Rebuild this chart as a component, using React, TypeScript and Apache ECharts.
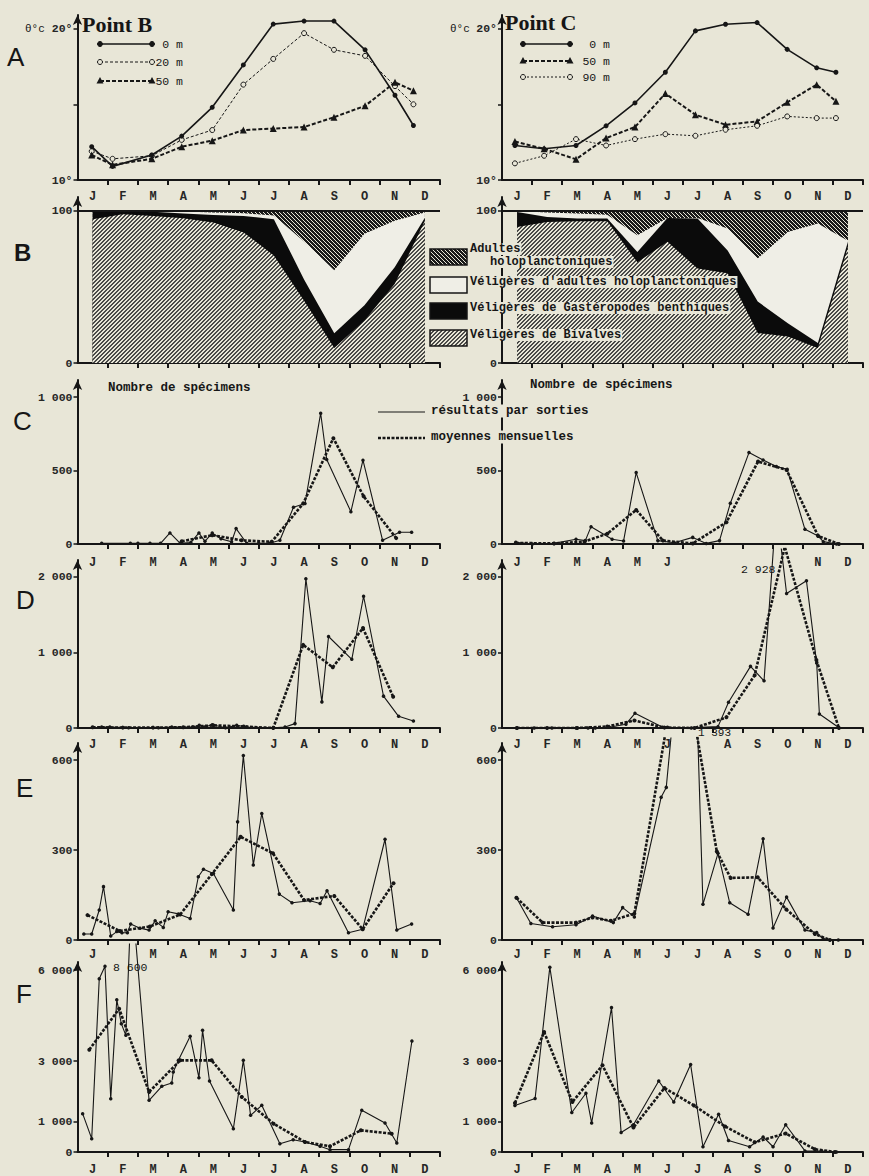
import React, { useEffect, useRef } from "react";
import * as echarts from "echarts";

const MONTHS = ["J", "F", "M", "A", "M", "J", "J", "A", "S", "O", "N", "D"];
const BG = "#e8e6d7";
const INK = "#161616";
const MONO = "'Liberation Mono', 'DejaVu Sans Mono', monospace";

// ---------- A : température (°C), x = mois écoulés depuis le 1er janvier ----------
const tempB_x = [0.47, 1.16, 2.46, 3.45, 4.46, 5.49, 6.48, 7.5, 8.49, 9.52, 10.51, 11.12];
const tempB_0m = [12.2, 10.9, 11.65, 12.9, 14.8, 17.6, 20.3, 20.5, 20.5, 18.6, 15.6, 13.6];
const tempB_20m = [11.9, 11.4, 11.6, 12.65, 13.3, 16.3, 18.0, 19.7, 18.6, 18.2, 16.2, 15.0];
const tempB_50m = [11.65, 11.0, 11.4, 12.2, 12.6, 13.3, 13.4, 13.5, 14.15, 14.9, 16.45, 15.9];

const tempC_x = [0.43, 1.4, 2.46, 3.46, 4.42, 5.43, 6.43, 7.43, 8.48, 9.48, 10.46, 11.1];
const tempC_0m = [12.28, 12.06, 12.28, 13.58, 15.09, 17.12, 19.85, 20.29, 20.4, 18.63, 17.41, 17.12];
const tempC_50m = [12.54, 12.06, 11.37, 12.77, 13.5, 15.71, 14.31, 13.65, 13.87, 15.13, 16.3, 15.2];
const tempC_90m = [11.1, 11.6, 12.7, 12.28, 12.7, 13.03, 12.92, 13.32, 13.58, 14.2, 14.09, 14.09];

// ---------- B : composition (%) ----------
const compMonths = [0.5, 1.5, 2.5, 3.5, 4.5, 5.5, 6.5, 7.5, 8.5, 9.5, 10.5, 11.5];
const pctB_bivalves = [94.6, 97.8, 96.7, 95.2, 92.4, 85.9, 70.7, 41, 9.8, 28, 52, 93.5];
const pctB_gastero = [5.4, 1.7, 2.8, 3.1, 5.0, 10.8, 23.9, 14, 9.8, 10, 11, 2.1];
const pctB_velHolo = [0, 0.5, 0.5, 1.3, 1.6, 1.8, 2.4, 25, 41.4, 47, 30.5, 3.4];
const pctB_adultes = [0, 0, 0, 0.4, 1, 1.5, 3, 20, 39, 15, 6.5, 1];

const pctC_bivalves = [89.5, 92.8, 93.2, 93.2, 66.2, 79.7, 62.2, 59, 19.7, 17.5, 9.8, 76.4];
const pctC_gastero = [9.8, 3.2, 1.8, 1.8, 6.8, 15.7, 32.8, 15, 20.7, 8.7, 3.3, 3.3];
const pctC_velHolo = [0.7, 3, 3.3, 2.6, 11, 0, 0.4, 14.4, 28.4, 60, 78.6, 0.8];
const pctC_adultes = [0, 1, 1.7, 2.4, 16, 4.6, 4.6, 11.6, 31.2, 13.8, 8.3, 19.5];

// ---------- C : Bivalves ----------
const cB_sorties_x = [0.8, 1.75, 2.0, 2.4, 2.75, 3.06, 3.4, 3.75, 4.02, 4.22, 4.46, 4.75, 5.1, 5.25, 5.6, 6.0, 6.37, 6.7, 7.15, 7.53, 8.05, 8.25, 9.05, 9.45, 10.1, 10.66, 11.06];
const cB_sorties_v = [5, 5, 5, 5, 5, 75, 5, 10, 75, 18, 75, 35, 15, 105, 5, 5, 5, 25, 250, 275, 890, 575, 220, 570, 25, 80, 80];
const cB_moy_x = [3.45, 4.46, 5.43, 6.43, 7.47, 8.47, 9.47, 10.55];
const cB_moy_v = [18, 60, 25, 15, 275, 720, 325, 40];

const cC_sorties_x = [0.46, 1.01, 1.73, 2.46, 2.77, 2.96, 3.66, 4.04, 4.46, 5.18, 5.73, 6.34, 6.79, 7.23, 7.59, 8.21, 8.68, 9.12, 9.48, 10.07, 10.51, 10.68, 11.12];
const cC_sorties_v = [11, 0, 4, 32, 23, 118, 32, 20, 486, 23, 9, 45, 4, 23, 277, 622, 572, 527, 508, 100, 54, 16, 0];
const cC_moy_x = [0.46, 1.73, 2.74, 3.5, 4.46, 5.35, 6.34, 7.46, 8.51, 9.46, 10.51, 11.2];
const cC_moy_v = [7, 4, 16, 70, 232, 23, 4, 148, 561, 504, 54, 0];

// ---------- D ----------
const dB_sorties_x = [0.8, 1.07, 1.69, 2.68, 3.12, 3.81, 4.03, 4.2, 4.46, 4.9, 5.27, 5.6, 6.48, 6.87, 7.2, 7.56, 8.09, 8.31, 9.08, 9.47, 10.13, 10.63, 11.12];
const dB_sorties_v = [13, 13, 4, 4, 13, 13, 35, 13, 44, 4, 35, 13, 4, 13, 58, 1976, 346, 1212, 910, 1745, 422, 155, 93];
const dB_moy_x = [0.5, 1.5, 2.5, 3.5, 4.5, 5.5, 6.48, 7.47, 8.45, 9.45, 10.45];
const dB_moy_v = [10, 5, 5, 10, 35, 20, 0, 1101, 804, 1323, 413];

const dC_sorties_x = [0.48, 1.07, 1.66, 2.46, 2.86, 3.1, 3.57, 4.12, 4.42, 5.34, 5.5, 6.29, 6.62, 7.18, 7.53, 8.26, 8.71, 9.12, 9.46, 10.12, 10.46, 10.55, 11.18];
const dC_sorties_v = [0, 0, 0, 0, 0, 0, 10, 50, 195, 9, 9, 0, 9, 18, 340, 816, 625, 2928, 1782, 1950, 860, 186, 9];
const dC_moy_x = [0.5, 1.5, 2.5, 3.5, 4.4, 5.4, 6.4, 7.46, 8.4, 9.4, 10.45, 11.2];
const dC_moy_v = [0, 0, 0, 20, 100, 5, 0, 141, 700, 2400, 900, 0];

// ---------- E ----------
const eB_sorties_x = [0.21, 0.47, 0.72, 0.86, 1.1, 1.3, 1.47, 1.65, 1.76, 2.07, 2.37, 2.57, 2.84, 3.0, 3.34, 3.73, 4.0, 4.17, 4.5, 5.16, 5.3, 5.49, 5.82, 6.1, 6.68, 7.1, 7.7, 8.03, 8.26, 8.97, 9.44, 10.18, 10.57, 11.06];
const eB_sorties_v = [20, 20, 100, 178, 13, 28, 24, 24, 53, 39, 33, 64, 42, 94, 87, 72, 211, 236, 222, 100, 394, 615, 250, 422, 153, 124, 131, 122, 164, 24, 36, 336, 33, 53];
const eB_moy_x = [0.33, 1.4, 2.4, 3.4, 4.45, 5.4, 6.47, 7.5, 8.5, 9.44, 10.46];
const eB_moy_v = [83, 30, 45, 85, 220, 344, 289, 133, 147, 36, 189];

const eC_sorties_x = [0.48, 0.96, 1.68, 2.46, 3.01, 3.7, 4.01, 4.4, 5.29, 5.46, 6.29, 6.68, 7.18, 7.57, 8.18, 8.68, 9.01, 9.46, 10.07, 10.46, 10.68, 11.18];
const eC_sorties_v = [141, 55, 44, 51, 80, 58, 108, 77, 476, 509, 1393, 119, 289, 124, 86, 338, 40, 143, 33, 25, 3, 0];
const eC_moy_x = [0.48, 1.35, 2.46, 3.01, 3.62, 4.4, 5.45, 6.35, 7.14, 7.6, 8.5, 9.45, 10.4, 10.9];
const eC_moy_v = [141, 58, 58, 75, 64, 88, 700, 760, 295, 207, 209, 102, 20, 0];

// ---------- F ----------
const fB_sorties_x = [0.17, 0.47, 0.72, 0.91, 1.1, 1.3, 1.45, 1.6, 1.79, 2.37, 2.79, 3.12, 3.17, 3.34, 3.73, 4.02, 4.14, 4.37, 5.16, 5.49, 5.73, 6.1, 6.7, 7.14, 7.53, 8.03, 8.36, 8.97, 9.41, 10.18, 10.57, 11.07];
const fB_sorties_v = [1265, 440, 5720, 6127, 1760, 5027, 4235, 3850, 8600, 1705, 2167, 2277, 2640, 3025, 3817, 2453, 4015, 2343, 770, 3025, 1210, 1540, 275, 407, 330, 187, 77, 77, 1375, 957, 297, 3663];
const fB_moy_x = [0.39, 1.38, 2.37, 3.4, 4.44, 5.44, 6.49, 7.53, 8.36, 9.38, 10.4];
const fB_moy_v = [3375, 4730, 1980, 3025, 3025, 1815, 935, 330, 187, 715, 605];

const fC_sorties_x = [0.43, 1.1, 1.59, 2.32, 2.79, 2.98, 3.64, 3.96, 4.37, 5.21, 5.71, 6.27, 6.68, 7.2, 7.53, 8.23, 8.68, 9.01, 9.43, 10.07, 10.62, 11.12];
const fC_sorties_v = [1535, 1766, 6100, 1304, 1939, 958, 4766, 646, 900, 2343, 1650, 2885, 173, 1246, 381, 173, 496, 173, 900, 35, 35, 0];
const fC_moy_x = [0.43, 1.4, 2.34, 3.34, 4.37, 5.4, 6.38, 7.42, 8.4, 9.43, 10.4, 11.07];
const fC_moy_v = [1616, 3958, 1650, 2862, 808, 2112, 1535, 842, 323, 612, 92, 0];

// ---------- layout ----------
const COLS = [
  { left: 77.5, width: 362.5 },
  { left: 502, width: 361 },
];
const ROWS = [
  { top: 15, height: 165, min: 10, max: 20.9, ticks: [10, 15, 20], labels: { 10: "10°", 20: "20°" } as Record<number, string>, monthMargin: 11 },
  { top: 197, height: 166, min: 0, max: 109.2, ticks: [0, 100], labels: { 0: "0", 100: "100" } as Record<number, string>, monthMargin: -1 },
  { top: 380, height: 164, min: 0, max: 1116, ticks: [0, 500, 1000], labels: { 0: "0", 500: "500", 1000: "1 000" } as Record<number, string>, monthMargin: 13 },
  { top: 560, height: 168, min: 0, max: 2225, ticks: [0, 1000, 2000], labels: { 0: "0", 1000: "1 000", 2000: "2 000" } as Record<number, string>, monthMargin: 11 },
  { top: 743, height: 197, min: 0, max: 657, ticks: [0, 300, 600], labels: { 0: "0", 300: "300", 600: "600" } as Record<number, string>, monthMargin: 9 },
  { top: 962, height: 190, min: 0, max: 6270, ticks: [0, 1000, 3000, 6000], labels: { 0: "0", 1000: "1 000", 3000: "3 000", 6000: "6 000" } as Record<number, string>, monthMargin: 12 },
];
// month labels masked in the original by the overflowing peaks
const HIDDEN_MONTHS: Record<number, number[]> = { 5: [6, 7, 8, 9], 7: [6], 8: [1] };
// panels whose peaks overflow above the axis arrow (top of the drawing zone)
const OVERFLOW_TOP: Record<number, number> = { 7: 549, 9: 738, 10: 944 };

const zip = (xs: number[], ys: number[]) => xs.map((x, i) => [x, ys[i]]);
const cumul = (...parts: number[][]) => parts[0].map((_, i) => parts.reduce((s, p) => s + p[i], 0));

function hatch(dark: string, light: string, on: number, slash: boolean) {
  const c = document.createElement("canvas");
  c.width = 4;
  c.height = 4;
  const g = c.getContext("2d")!;
  g.fillStyle = light;
  g.fillRect(0, 0, 4, 4);
  g.fillStyle = dark;
  for (let y = 0; y < 4; y++) {
    for (let k = 0; k < on; k++) {
      const x = slash ? (3 - y + k + 8) % 4 : (y + k) % 4;
      g.fillRect(x, y, 1, 1);
    }
  }
  return c;
}

function buildOption() {
  const patLight = { image: hatch("#4a4a48", BG, 2, true), repeat: "repeat", imageWidth: 4, imageHeight: 4 };
  const patDark = { image: hatch("#1a1a1a", BG, 3, false), repeat: "repeat", imageWidth: 4, imageHeight: 4 };
  const WHITE = "#efeee6";

  const grid: any[] = [];
  const xAxis: any[] = [];
  const yAxis: any[] = [];
  const series: any[] = [];
  const axisFor: Record<number, number> = {};

  ROWS.forEach((r, ri) => {
    COLS.forEach((c, ci) => {
      const gi = ri * 2 + ci;
      axisFor[gi] = gi;
      const hidden = HIDDEN_MONTHS[gi] || [];
      grid.push({ left: c.left, top: r.top, width: c.width, height: r.height, containLabel: false, outerBoundsMode: "none" });
      xAxis.push({
        type: "value",
        gridIndex: gi,
        min: 0,
        max: 12,
        splitLine: { show: false },
        axisLine: { show: true, onZero: false, lineStyle: { color: INK, width: 2 } },
        axisTick: { show: true, customValues: [1, 2, 3, 4, 5, 6, 7, 8, 9, 10, 11, 12], length: 5, inside: false, lineStyle: { color: INK, width: 2 } },
        axisLabel: {
          show: r.monthMargin >= 0,
          customValues: [0.5, 1.5, 2.5, 3.5, 4.5, 5.5, 6.5, 7.5, 8.5, 9.5, 10.5, 11.5],
          formatter: (v: number) => {
            const k = Math.round(v - 0.5);
            return hidden.includes(k) ? "" : MONTHS[k] || "";
          },
          margin: Math.max(r.monthMargin, 0),
          fontFamily: MONO,
          fontWeight: "bold",
          fontSize: 12,
          color: "#262626",
        },
      });
      yAxis.push({
        type: "value",
        gridIndex: gi,
        min: r.min,
        max: r.max,
        splitLine: { show: false },
        axisLine: { show: true, onZero: false, symbol: ["none", "arrow"], symbolSize: [7, 10], lineStyle: { color: INK, width: 2 } },
        axisTick: { show: true, customValues: r.ticks, length: 4, inside: false, lineStyle: { color: INK, width: 1.5 } },
        axisLabel: {
          customValues: r.ticks,
          formatter: (v: number) => r.labels[v] ?? "",
          margin: 5,
          fontFamily: MONO,
          fontWeight: "bold",
          fontSize: 11.5,
          color: "#262626",
        },
      });
    });
  });

  // invisible companion grids, same scale, letting tall peaks run above the arrow
  Object.keys(OVERFLOW_TOP).forEach((k) => {
    const gi = Number(k);
    const r = ROWS[Math.floor(gi / 2)];
    const c = COLS[gi % 2];
    const top = OVERFLOW_TOP[gi];
    const bottom = r.top + r.height;
    const h = bottom - top;
    const idx = grid.length;
    grid.push({ left: c.left, top, width: c.width, height: h, containLabel: false, outerBoundsMode: "none" });
    xAxis.push({ type: "value", gridIndex: idx, min: 0, max: 12, show: false });
    yAxis.push({ type: "value", gridIndex: idx, min: r.min, max: r.min + ((r.max - r.min) * h) / r.height, show: false });
    axisFor[gi] = idx;
  });

  const temp = (gi: number, name: string, xs: number[], ys: number[], kind: "solid" | "open" | "tri" | "dot") => {
    const base: any = {
      type: "line",
      name,
      xAxisIndex: gi,
      yAxisIndex: gi,
      data: zip(xs, ys),
      silent: true,
      z: kind === "solid" ? 5 : 4,
    };
    if (kind === "solid") {
      base.symbol = "circle";
      base.symbolSize = 5;
      base.itemStyle = { color: INK };
      base.lineStyle = { color: INK, width: 1.6 };
    } else if (kind === "open") {
      base.symbol = "circle";
      base.symbolSize = 5;
      base.itemStyle = { color: BG, borderColor: INK, borderWidth: 1 };
      base.lineStyle = { color: INK, width: 1, type: [3, 2] };
    } else if (kind === "tri") {
      base.symbol = "triangle";
      base.symbolSize = 7;
      base.itemStyle = { color: INK };
      base.lineStyle = { color: INK, width: 2, type: [4, 2] };
    } else {
      base.symbol = "circle";
      base.symbolSize = 5;
      base.itemStyle = { color: BG, borderColor: INK, borderWidth: 1 };
      base.lineStyle = { color: INK, width: 1, type: [2, 2] };
    }
    return base;
  };
  series.push(temp(0, "0 m", tempB_x, tempB_0m, "solid"));
  series.push(temp(0, "20 m", tempB_x, tempB_20m, "open"));
  series.push(temp(0, "50 m", tempB_x, tempB_50m, "tri"));
  series.push(temp(1, "0 m", tempC_x, tempC_0m, "solid"));
  series.push(temp(1, "50 m", tempC_x, tempC_50m, "tri"));
  series.push(temp(1, "90 m", tempC_x, tempC_90m, "dot"));

  const comp = (gi: number, biv: number[], gas: number[], vel: number[], adu: number[]) => {
    const tops = [cumul(biv, gas, vel, adu), cumul(biv, gas, vel), cumul(biv, gas), cumul(biv)];
    const fills: any[] = [patDark, WHITE, "#0b0b0b", patLight];
    tops.forEach((t, k) => {
      const s: any = {
        type: "line",
        xAxisIndex: gi,
        yAxisIndex: gi,
        data: zip(compMonths, t),
        symbol: "none",
        silent: true,
        lineStyle: { width: 0 },
        areaStyle: { color: fills[k], opacity: 1 },
        z: 2 + k,
      };
      if (k === 0) {
        s.markLine = {
          silent: true,
          symbol: "none",
          label: { show: false },
          lineStyle: { color: INK, width: 2, type: "solid" },
          data: [{ yAxis: 100 }],
        };
      }
      series.push(s);
    });
  };
  comp(2, pctB_bivalves, pctB_gastero, pctB_velHolo, pctB_adultes);
  comp(3, pctC_bivalves, pctC_gastero, pctC_velHolo, pctC_adultes);

  const counts = (gi: number, sx: number[], sv: number[], mx: number[], mv: number[]) => {
    const ai = axisFor[gi];
    series.push({
      type: "line",
      xAxisIndex: ai,
      yAxisIndex: ai,
      data: zip(sx, sv),
      symbol: "circle",
      symbolSize: 3.5,
      silent: true,
      itemStyle: { color: INK },
      lineStyle: { color: INK, width: 1.1 },
      z: 5,
    });
    series.push({
      type: "line",
      xAxisIndex: ai,
      yAxisIndex: ai,
      data: zip(mx, mv),
      symbol: "circle",
      symbolSize: 4,
      silent: true,
      itemStyle: { color: INK },
      lineStyle: { color: INK, width: 2.6, type: [3, 1.5] },
      z: 4,
    });
  };
  counts(4, cB_sorties_x, cB_sorties_v, cB_moy_x, cB_moy_v);
  counts(5, cC_sorties_x, cC_sorties_v, cC_moy_x, cC_moy_v);
  counts(6, dB_sorties_x, dB_sorties_v, dB_moy_x, dB_moy_v);
  counts(7, dC_sorties_x, dC_sorties_v, dC_moy_x, dC_moy_v);
  counts(8, eB_sorties_x, eB_sorties_v, eB_moy_x, eB_moy_v);
  counts(9, eC_sorties_x, eC_sorties_v, eC_moy_x, eC_moy_v);
  counts(10, fB_sorties_x, fB_sorties_v, fB_moy_x, fB_moy_v);
  counts(11, fC_sorties_x, fC_sorties_v, fC_moy_x, fC_moy_v);

  // ---------- graphic decorations ----------
  const g: any[] = [];
  const txt = (text: string, x: number, y: number, font: string, extra: any = {}, z = 50) =>
    g.push({ type: "text", x, y, z, silent: true, style: { text, font, fill: INK, verticalAlign: "middle", ...extra } });

  const letterFont = "normal 26px 'Liberation Sans', Arial, sans-serif";
  txt("A", 7, 57, letterFont);
  txt("B", 14, 252, "bold 24px 'Liberation Sans Narrow', 'Liberation Sans', sans-serif");
  txt("C", 13, 421, letterFont);
  txt("D", 16, 600, letterFont);
  txt("E", 16, 788, letterFont);
  txt("F", 16, 994, letterFont);

  txt("Point B", 82, 24, "bold 22px 'Liberation Serif', serif");
  txt("Point C", 505, 22, "bold 22px 'Liberation Serif', serif");
  txt("θ°c", 25, 29, `11px ${MONO}`);
  txt("θ°c", 450, 29, `11px ${MONO}`);

  const legLine = (x1: number, x2: number, y: number, kind: "solid" | "open" | "tri" | "dot") => {
    const dash = kind === "solid" ? null : kind === "open" ? [3, 2] : kind === "tri" ? [4, 2] : [2, 2];
    g.push({ type: "line", z: 50, silent: true, shape: { x1, y1: y, x2, y2: y }, style: { stroke: INK, lineWidth: kind === "tri" ? 2 : kind === "solid" ? 1.6 : 1, lineDash: dash } });
    [x1, x2].forEach((cx) => {
      if (kind === "tri") {
        g.push({ type: "polygon", z: 51, silent: true, shape: { points: [[cx, y - 4], [cx - 3.5, y + 2.5], [cx + 3.5, y + 2.5]] }, style: { fill: INK } });
      } else {
        g.push({ type: "circle", z: 51, silent: true, shape: { cx, cy: y, r: 2.5 }, style: { fill: kind === "solid" ? INK : BG, stroke: INK, lineWidth: 1 } });
      }
    });
  };
  legLine(100, 152, 44, "solid");
  legLine(100, 152, 62, "open");
  legLine(100, 152, 81, "tri");
  txt("0 m", 183, 44, `11.5px ${MONO}`, { align: "right" });
  txt("20 m", 183, 62, `11.5px ${MONO}`, { align: "right" });
  txt("50 m", 183, 81, `11.5px ${MONO}`, { align: "right" });
  legLine(523, 570, 44, "solid");
  legLine(523, 570, 61, "tri");
  legLine(523, 570, 77, "dot");
  txt("0 m", 610, 44, `11.5px ${MONO}`, { align: "right" });
  txt("50 m", 610, 61, `11.5px ${MONO}`, { align: "right" });
  txt("90 m", 610, 77, `11.5px ${MONO}`, { align: "right" });

  // legend B
  const boxes: [number, any, [string, number, number][]][] = [
    [249, patDark, [["Adultes", 469, 249], ["holoplanctoniques", 489, 262]]],
    [277, WHITE, [["Véligères d'adultes holoplanctoniques", 469, 282]]],
    [303, "#0b0b0b", [["Véligères de Gastéropodes benthiques", 469, 308]]],
    [330, patLight, [["Véligères de Bivalves", 469, 335]]],
  ];
  boxes.forEach(([y, fill, lines]) => {
    g.push({ type: "rect", z: 60, silent: true, shape: { x: 430, y, width: 37, height: 16 }, style: { fill, stroke: INK, lineWidth: 1.5 } });
    lines.forEach(([t, x, ty]) => txt(t, x, ty, `bold 12px ${MONO}`, { backgroundColor: BG, padding: [0, 1] }, 61));
  });

  txt("Nombre de spécimens", 108, 388, `bold 12.5px ${MONO}`);
  txt("Nombre de spécimens", 530, 385, `bold 12.5px ${MONO}`);

  // legend C
  g.push({ type: "line", z: 50, silent: true, shape: { x1: 378, y1: 412, x2: 425, y2: 412 }, style: { stroke: INK, lineWidth: 1.2 } });
  g.push({ type: "line", z: 50, silent: true, shape: { x1: 378, y1: 438, x2: 425, y2: 438 }, style: { stroke: INK, lineWidth: 2.6, lineDash: [3, 1.5] } });
  txt("résultats par sorties", 430, 411, `bold 12.5px ${MONO}`, { backgroundColor: BG, padding: [0, 1] }, 61);
  txt("moyennes mensuelles", 430, 437, `bold 12.5px ${MONO}`, { backgroundColor: BG, padding: [0, 1] }, 61);

  // annotations for clipped peaks
  txt("2 928", 741, 569, `11.5px ${MONO}`);
  txt("1 393", 698, 733, `11px ${MONO}`);
  txt("8 600", 113, 967, `11.5px ${MONO}`);

  return {
    animation: false,
    backgroundColor: BG,
    grid,
    xAxis,
    yAxis,
    series,
    graphic: { elements: g },
  };
}

export default function App() {
  const ref = useRef<HTMLDivElement>(null);
  useEffect(() => {
    const el = ref.current!;
    const chart = echarts.init(el, null, { renderer: "svg" });
    chart.setOption(buildOption() as any);
    return () => chart.dispose();
  }, []);
  return (
    <div
      ref={ref}
      style={{ position: "fixed", left: 0, top: 0, width: 869, height: 1176, background: BG }}
    />
  );
}
